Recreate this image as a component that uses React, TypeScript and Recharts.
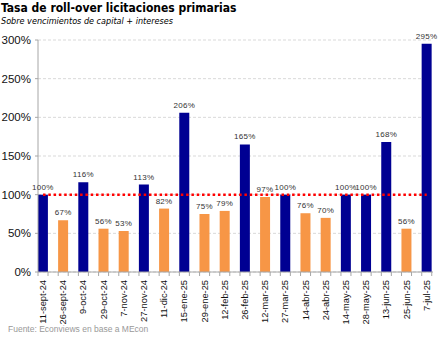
import React from "react";
import { ComposedChart, Bar, Line, XAxis, YAxis, CartesianGrid, Cell, LabelList } from "recharts";

const categories = [
  "11-sept-24", "26-sept-24", "9-oct-24", "29-oct-24", "7-nov-24", "27-nov-24",
  "11-dic-24", "15-ene-25", "29-ene-25", "12-feb-25", "26-feb-25", "12-mar-25",
  "27-mar-25", "14-abr-25", "24-abr-25", "14-may-25", "28-may-25", "13-jun-25",
  "25-jun-25", "7-jul-25",
];
const rollover = [100, 67, 116, 56, 53, 113, 82, 206, 75, 79, 165, 97, 100, 76, 70, 100, 100, 168, 56, 295];
const parLevel = 100;
const yTicks = [0, 50, 100, 150, 200, 250, 300];

const BLUE = "#000092";
const ORANGE = "#F79646";

const data = categories.map((name, i) => ({ idx: i, name, value: rollover[i], par: parLevel }));
const xTicks = categories.map((_, i) => i);

function XTick(props: any) {
  const { x, y, payload } = props;
  const label = categories[payload.value] ?? "";
  return (
    <g>
      <line x1={x - 5} x2={x - 5} y1={y} y2={y + 4} stroke="#a6a6a6" />
      <line x1={x + 5} x2={x + 5} y1={y} y2={y + 4} stroke="#a6a6a6" />
      <text
        transform={`translate(${x},${y + 8}) rotate(-90)`}
        textAnchor="end"
        dominantBaseline="central"
        fontSize={9.3}
        fontFamily="Liberation Sans, Arial, sans-serif"
        fill="#111"
      >
        {label}
      </text>
    </g>
  );
}

export default function App() {
  return (
    <div style={{ position: "absolute", left: 0, top: 0, width: 443, height: 340, background: "#fff", overflow: "hidden" }}>
      <div style={{ position: "absolute", left: 1, top: 0, fontFamily: "DejaVu Sans Condensed, DejaVu Sans, sans-serif", fontWeight: "bold", fontSize: 12, color: "#000", whiteSpace: "nowrap", lineHeight: "16px" }}>
        Tasa de roll-over licitaciones primarias
      </div>
      <div style={{ position: "absolute", left: 1, top: 15, fontFamily: "DejaVu Sans Condensed, DejaVu Sans, sans-serif", fontStyle: "italic", fontSize: 9, color: "#000", whiteSpace: "nowrap", lineHeight: "12px" }}>
        Sobre vencimientos de capital + intereses
      </div>
      <ComposedChart
        width={443}
        height={340}
        data={data}
        margin={{ top: 40, right: 10, left: 0, bottom: 0 }}
        style={{ position: "absolute", left: 0, top: 0 }}
      >
        <CartesianGrid vertical={false} stroke="#d9d9d9" strokeDasharray="3 2" />
        <XAxis
          dataKey="idx"
          type="number"
          domain={[-0.248, 19.31]}
          ticks={xTicks}
          interval={0}
          allowDataOverflow
          height={68}
          tickSize={0}
          tickMargin={0}
          tickLine={false}
          axisLine={{ stroke: "#a6a6a6" }}
          tick={<XTick />}
        />
        <YAxis
          domain={[0, 300]}
          ticks={yTicks}
          width={38}
          tickSize={3}
          tickMargin={4}
          tickLine={{ stroke: "#a6a6a6" }}
          axisLine={{ stroke: "#a6a6a6" }}
          tickFormatter={(v: number) => `${v}%`}
          tick={{ fontSize: 11.5, fill: "#111", fontFamily: "Liberation Sans, Arial, sans-serif" }}
        />
        <Bar dataKey="value" barSize={10} isAnimationActive={false}>
          {data.map((d, i) => (
            <Cell key={i} fill={d.value >= parLevel ? BLUE : ORANGE} />
          ))}
          <LabelList
            dataKey="value"
            position="top"
            offset={5}
            formatter={(v: any) => `${v}%`}
            style={{ fontSize: 8, fill: "#333", fontFamily: "Liberation Sans, Arial, sans-serif", letterSpacing: 0.3 }}
          />
        </Bar>
        <Line
          dataKey="par"
          stroke="#ff0000"
          strokeWidth={2.5}
          strokeDasharray="2.5 2.8"
          dot={false}
          activeDot={false}
          isAnimationActive={false}
        />
      </ComposedChart>
      <div style={{ position: "absolute", left: 8, top: 323, fontFamily: "Liberation Sans, Arial, sans-serif", fontSize: 8.5, color: "#999", whiteSpace: "nowrap", lineHeight: "12px" }}>
        Fuente: Econviews en base a MEcon
      </div>
    </div>
  );
}
